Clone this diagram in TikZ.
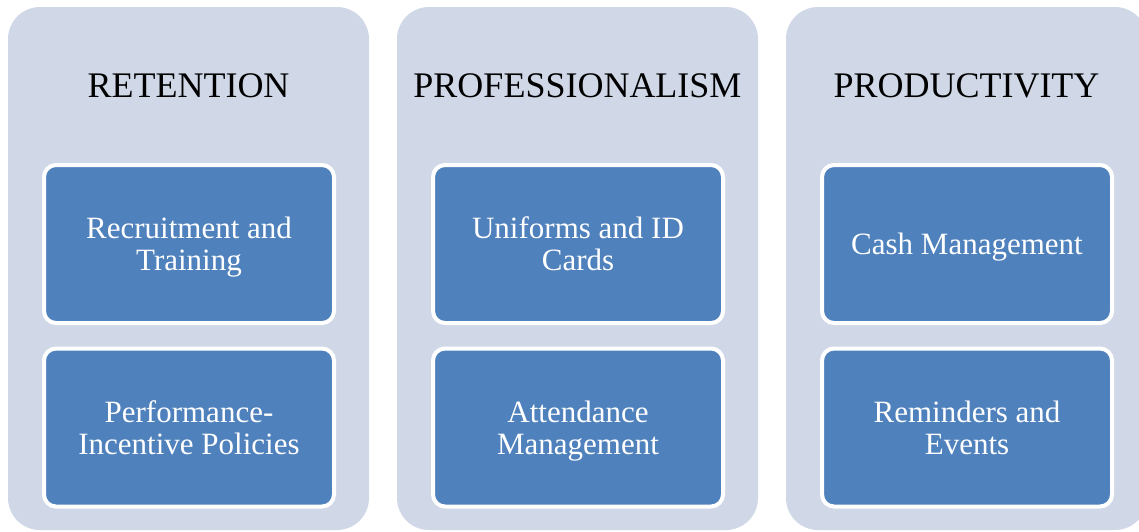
\documentclass[tikz,border=0pt]{standalone}
\usepackage{fontspec}
\setmainfont{Liberation Serif}
\definecolor{colbg}{HTML}{D0D8E8}
\definecolor{boxblue}{HTML}{4F81BD}
\newcommand{\toprule}{\rule{0pt}{31.4pt}}

\begin{document}
\begin{tikzpicture}[x=1pt, y=-1pt]
        \tikzstyle{column}=[fill=colbg, rounded corners=32pt, minimum width=361pt, minimum height=523pt, inner sep=0pt]
        \tikzstyle{title}=[font=\fontsize{36}{40}\selectfont, inner sep=0pt]
        \tikzstyle{item}=[fill=boxblue, draw=white, line width=4pt, rounded corners=12pt, minimum width=290pt, minimum height=158pt, text=white, align=center, font=\fontsize{31}{32}\selectfont]

        \useasboundingbox (0,0) rectangle (1139,531);

% the three columns
        \node[column] (ret) at (188.5,268.5) {};
        \node[column] (prof) at (577.5,268.5) {};
        \node[column] (prod) at (966.5,268.5) {};

% column titles
        \node[title] (retTitle) at (188.5,86) {RETENTION};
        \node[title] (profTitle) at (577.5,86) {PROFESSIONALISM};
        \node[title] (prodTitle) at (966.5,86) {PRODUCTIVITY};

% boxes inside each column
        \node[item] (recruit) at (189,244) {\toprule Recruitment and\\Training\strut};
        \node[item] (perf) at (189,427.5) {\toprule Performance-\\Incentive Policies\strut};
        \node[item] (uniform) at (578,244) {\toprule Uniforms and ID\\Cards\strut};
        \node[item] (attend) at (578,427.5) {\toprule Attendance\\Management\strut};
        \node[item] (cash) at (967,244) {\toprule Cash Management\strut};
        \node[item] (remind) at (967,427.5) {\toprule Reminders and\\Events\strut};

\end{tikzpicture}
\end{document}
